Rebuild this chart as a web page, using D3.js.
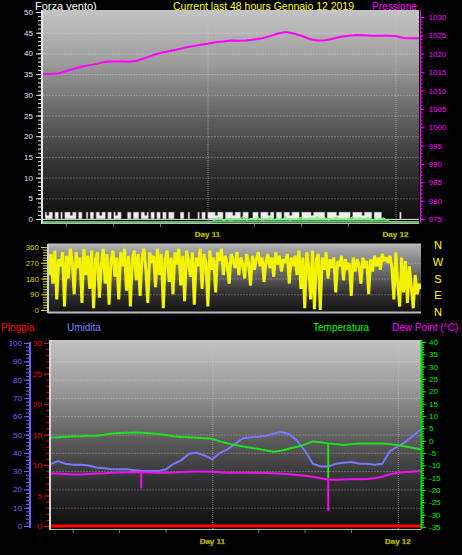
<!DOCTYPE html>
<html>
<head>
<meta charset="utf-8">
<script src="https://cdn.jsdelivr.net/npm/d3@7"></script>
<style>
  body { margin: 0; background: #000; }
  svg { display: block; }
  text { font-family: "Liberation Sans", Arial, sans-serif; }
</style>
</head>
<body>
<svg id="chart" width="462" height="555"></svg>
<script>
// ---- data ----
const startTime = new Date(2019, 0, 10, 3, 0);   // last 48 hours up to Jan 12
const endTime = new Date(2019, 0, 12, 3, 0);

const windTicks = [0, 5, 10, 15, 20, 25, 30, 35, 40, 45, 50];
const pressTicks = [975, 980, 985, 990, 995, 1000, 1005, 1010, 1015, 1020, 1025, 1030];
const dirTicks = [0, 90, 180, 270, 360];
const compass = ['N', 'E', 'S', 'W', 'N'];          // for 0, 90, 180, 270, 360
const humTicks = [0, 10, 20, 30, 40, 50, 60, 70, 80, 90, 100];
const rainTicks = [0, 5, 10, 15, 20, 25, 30];
const tempTicks = [-35, -30, -25, -20, -15, -10, -5, 0, 5, 10, 15, 20, 25, 30, 35, 40];

// hourly, 49 samples
const pressure = [1014.5, 1014.5, 1014.6, 1015.3, 1015.9, 1016.5, 1016.9, 1017.3, 1017.8, 1017.9,
  1017.9, 1017.8, 1018.1, 1018.8, 1019.6, 1020.2, 1020.7, 1021.1, 1021.6, 1022.0,
  1022.4, 1022.7, 1023.1, 1023.3, 1023.6, 1023.5, 1023.6, 1023.9, 1024.2, 1024.8,
  1025.5, 1025.9, 1025.5, 1024.9, 1024.0, 1023.6, 1023.7, 1024.1, 1024.6, 1024.9,
  1025.1, 1025.0, 1024.9, 1024.9, 1024.9, 1024.8, 1024.3, 1024.2, 1024.2];

const humidity = [33.5, 35.5, 34, 33.5, 33.5, 33, 32, 31.5, 31, 31,
  31, 30.5, 30, 30, 30, 31, 34, 36, 39.5, 40,
  38.5, 36.5, 40, 42, 45, 48, 48.5, 48.8, 49.5, 50.5,
  51.5, 50, 46.5, 41, 34, 32.5, 32.5, 34, 34.5, 35,
  34, 34, 33.5, 34, 41, 43.5, 46, 49.5, 53];

const temperature = [1.3, 1.4, 1.6, 1.7, 1.8, 2.0, 2.0, 2.4, 2.9, 3.1,
  3.2, 3.3, 3.2, 3.0, 2.7, 2.3, 1.8, 1.5, 1.4, 1.2,
  1.0, 0.8, -0.3, -1.1, -1.8, -2.4, -2.9, -3.4, -4.0, -4.5,
  -4.0, -3.2, -2.5, -1.5, -0.3, -0.6, -1.1, -1.4, -1.8, -1.4,
  -1.1, -1.1, -1.1, -1.1, -1.4, -1.8, -2.4, -3.0, -3.6];

const dewPoint = [-13.3, -13.3, -13.5, -13.7, -13.7, -13.5, -13.3, -13.2, -13.0, -12.9,
  -12.8, -12.7, -12.8, -12.9, -13.0, -13.0, -12.9, -12.7, -12.6, -12.5,
  -12.5, -12.6, -12.8, -13.0, -13.0, -13.0, -13.0, -13.1, -13.1, -13.2,
  -13.4, -13.6, -13.9, -14.2, -14.6, -15.2, -15.7, -15.8, -15.7, -15.6,
  -15.6, -15.5, -15.2, -14.6, -13.6, -13.0, -12.7, -12.5, -12.3];

const rain = [0, 0, 0, 0, 0, 0, 0, 0, 0, 0, 0, 0, 0, 0, 0, 0, 0, 0, 0, 0, 0, 0, 0, 0, 0,
  0, 0, 0, 0, 0, 0, 0, 0, 0, 0, 0, 0, 0, 0, 0, 0, 0, 0, 0, 0, 0, 0, 0, 0];

// single-sample drops
const tempSpikes = [{ hour: 36, from: -1.1, to: -15.2 }];
const dewSpikes = [{ hour: 11.8, from: -12.7, to: -19.3 }, { hour: 36, from: -15.7, to: -28.4 }];

// every 15 minutes, 193 samples
const windDir = [200, 320, 150, 340, 60, 290, 250, 330, 20, 310, 180, 350, 270, 90, 330, 240,
  300, 40, 350, 200, 310, 120, 340, 10, 290, 330, 70, 260, 350, 150, 320, 30,
  280, 340, 190, 300, 60, 330, 250, 350, 110, 310, 20, 290, 340, 170, 320, 80,
  300, 350, 230, 40, 330, 270, 310, 130, 350, 200, 320, 10, 290, 340, 160, 300,
  90, 330, 260, 350, 140, 310, 50, 340, 280, 190, 330, 30, 300, 250, 350, 120,
  320, 270, 20, 340, 230, 300, 100, 330, 280, 350, 200, 310, 260, 150, 320, 290,
  240, 330, 200, 300, 260, 180, 320, 270, 140, 310, 230, 290, 330, 250, 300, 160,
  280, 320, 240, 300, 190, 330, 260, 310, 220, 290, 270, 320, 150, 300, 250, 310,
  200, 340, 120, 300, 10, 330, 250, 60, 340, 5, 290, 320, 0, 300, 230, 330,
  180, 290, 240, 300, 100, 280, 250, 310, 170, 290, 230, 270, 80, 300, 220, 290,
  260, 150, 300, 240, 280, 90, 290, 220, 310, 250, 300, 230, 320, 280, 300, 270,
  310, 240, 60, 330, 150, 20, 300, 100, 280, 40, 250, 130, 10, 200, 90, 150, 120];

const gust = [0,
  1.7, 0.9, 1.7, 1.7, 0, 1.7, 1.7, 0, 1.7, 0, 1.7,
  1.7, 1.7, 0.9, 1.7, 1.7, 0, 1.7, 1.7, 0, 0,
  1.7, 0, 1.7, 1.7, 0, 1.7, 1.7, 0.9, 1.7, 1.7, 0,
  1.7, 1.7, 0, 1.7, 0.9, 1.7, 1.7, 0, 0, 0,
  1.7, 1.7, 0, 1.7, 1.7, 1.7, 0, 1.7, 1.7, 0.9, 1.7, 0, 1.7, 1.7, 0,
  1.7, 1.7, 0, 1.7, 1.7, 0, 1.7, 1.7, 1.7, 0, 0, 0,
  1.7, 1.7, 0, 0, 1.7, 0, 0, 0, 0,
  1.7, 0, 1.7, 1.7, 0, 1.7,
  1.7, 1.7, 1.7, 0.9, 1.7, 1.7, 1.7, 0, 1.7, 1.7, 1.7, 1.7, 0.9, 1.7, 1.7, 1.7, 0, 1.7, 1.7, 1.7,
  0, 0,
  1.7, 1.7, 1.7, 0, 1.7, 1.7, 1.7, 1.7, 0.9, 1.7, 1.7, 0, 1.7, 1.7, 1.7, 0,
  1.7, 1.7, 1.7, 0.9, 1.7, 1.7, 1.7, 1.7, 0, 1.7, 1.7, 1.7, 1.7, 1.7, 0.9, 1.7, 1.7, 1.7, 1.7, 1.7,
  1.7, 0, 1.7, 1.7, 1.7, 1.7, 1.7, 0.9, 1.7, 1.7, 1.7, 1.7, 1.7, 1.7, 0, 1.7, 1.7, 1.7, 1.7, 1.7,
  0.9, 1.7, 1.7, 1.7, 1.7, 0, 1.7, 1.7, 1.7, 1.7,
  0, 0, 0, 0, 0, 0, 0, 0, 0, 1.7, 0, 0, 0, 0, 0, 0, 0, 0, 0, 0];

// every 30 minutes, 97 samples
const avgWind = [0, 0, 0, 0, 0, 0, 0, 0, 0, 0, 0, 0, 0, 0, 0, 0, 0, 0, 0, 0, 0, 0,
  0, 0, 0, 0, 0, 0, 0, 0, 0, 0, 0, 0, 0, 0, 0, 0, 0, 0, 0, 0, 0, 0,
  0.6, 1.2, 0.3, 0.8, 0.2, 1.0, 0.5, 1.3, 0.4, 0.9, 0.7, 1.1, 0.3, 0.8, 1.2, 0.5,
  1.0, 0.6, 1.3, 0.4, 0.9, 0.7, 1.2, 0.5, 1.0, 0.8, 1.3, 0.6, 1.1, 0.4, 0.9, 1.2,
  0.7, 1.0, 0.5, 1.3, 0.8, 1.1, 0.6, 1.2, 0.4, 0.9, 0.7, 1.0, 0.3,
  0, 0, 0, 0, 0, 0, 0, 0];

// ---- helpers ----
const svg = d3.select('#chart');
const defs = svg.append('defs');
const at = (i, minutes) => d3.timeMinute.offset(startTime, i * minutes);
const days = d3.timeDay.range(startTime, endTime);
const sixHours = d3.timeHour.every(6).range(startTime, endTime).filter(d => d.getHours() !== 0);

function gradient(id, stops) {
  const g = defs.append('linearGradient').attr('id', id)
    .attr('x1', 0).attr('y1', 0).attr('x2', 0).attr('y2', 1);
  stops.forEach(s => g.append('stop').attr('offset', s[0]).attr('stop-color', s[1]));
}
gradient('bgMain', [[0, '#c4c4c4'], [0.25, '#9c9c9c'], [0.5, '#626262'], [0.75, '#303030'], [1, '#0c0c0c']]);
gradient('bgDir', [[0, '#b0b0b0'], [0.4, '#6a6a6a'], [0.7, '#333'], [1, '#141414']]);

function clip(id, x, y, w, h) {
  defs.append('clipPath').attr('id', id).append('rect')
    .attr('x', x).attr('y', y).attr('width', w).attr('height', h);
}

function styleAxis(g, color, size) {
  g.select('.domain').remove();
  g.selectAll('.tick line').attr('stroke', color);
  g.selectAll('.tick text').attr('fill', color).style('font-size', size + 'px')
    .style('font-family', '"Liberation Sans", Arial, sans-serif');
  return g;
}

function yAxis(gen, pos, scale, ticks, minor, len, pad, color) {
  const major = svg.append('g').attr('transform', `translate(${pos},0)`)
    .call(gen(scale).tickValues(ticks).tickSize(len).tickPadding(pad).tickFormat(d => String(d)));
  styleAxis(major, color, 8);
  const small = svg.append('g').attr('transform', `translate(${pos},0)`)
    .call(gen(scale).tickValues(minor).tickSize(len - 2).tickFormat(''));
  styleAxis(small, color, 8);
}

function minorRange(ticks, step) {
  const out = [];
  for (let v = ticks[0]; v <= ticks[ticks.length - 1] + 1e-9; v += step) out.push(+v.toFixed(3));
  return out;
}

function dayLabels(x, y) {
  svg.append('g').selectAll('text').data(days).join('text')
    .attr('x', d => x(d)).attr('y', y)
    .attr('text-anchor', 'middle')
    .attr('fill', '#f0f000').attr('stroke', '#6a6a00').attr('stroke-width', 0.3)
    .style('font-size', '8px').style('font-weight', 'bold')
    .text(d => 'Day ' + d.getDate());
}

// ---- titles ----
svg.append('text').attr('x', 35).attr('y', 10).attr('fill', '#fff').style('font-size', '11px').text('Forza vento)');
svg.append('text').attr('x', 173).attr('y', 10).attr('fill', '#ffff00').style('font-size', '11px')
  .attr('textLength', 181).attr('lengthAdjust', 'spacingAndGlyphs')
  .text('Current last 48 hours Gennaio 12 2019');
svg.append('text').attr('x', 372).attr('y', 10).attr('fill', '#ff00ff').style('font-size', '11px')
  .attr('textLength', 45).attr('lengthAdjust', 'spacingAndGlyphs').text('Pressione');

// ================= panel 1: wind speed + pressure =================
const x1 = d3.scaleTime().domain([startTime, endTime]).range([43, 419]);
const yWind = d3.scaleLinear().domain([0, 50]).range([219, 12]);
const yPress = d3.scaleLinear().domain([975, 1030]).range([219, 17]);

svg.append('rect').attr('x', 43).attr('y', 10).attr('width', 376).attr('height', 213).attr('fill', 'url(#bgMain)');
clip('clip1', 43, 10, 376, 213);
const p1 = svg.append('g').attr('clip-path', 'url(#clip1)');

p1.append('g').selectAll('line').data(windTicks.slice(1, -1)).join('line')
  .attr('x1', 43).attr('x2', 419).attr('y1', d => yWind(d) + 0.5).attr('y2', d => yWind(d) + 0.5)
  .attr('stroke', 'rgba(255,255,255,0.28)').attr('stroke-dasharray', '2,1');
p1.append('g').selectAll('line').data(days).join('line')
  .attr('x1', d => x1(d) + 0.5).attr('x2', d => x1(d) + 0.5).attr('y1', 10).attr('y2', 223)
  .attr('stroke', 'rgba(200,200,200,0.6)').attr('stroke-dasharray', '1,1');

p1.append('path').datum(gust)
  .attr('d', d3.area().x((d, i) => x1(at(i, 15))).y0(yWind(0)).y1(d => yWind(d)).curve(d3.curveStepAfter))
  .attr('fill', '#eeeeee').attr('stroke', '#444').attr('stroke-width', 0.6);
p1.append('line').attr('x1', 43).attr('x2', 419).attr('y1', yWind(0) + 0.5).attr('y2', yWind(0) + 0.5)
  .attr('stroke', '#cfcfcf');

p1.append('path').datum(avgWind)
  .attr('d', d3.area().x((d, i) => x1(at(i, 30))).y0(222).y1(d => yWind(d) + 3))
  .attr('fill', 'rgba(120,255,120,0.55)').attr('stroke', '#7cff7c').attr('stroke-width', 1);

p1.append('path').datum(pressure)
  .attr('d', d3.line().x((d, i) => x1(at(i, 60))).y(d => yPress(d)))
  .attr('fill', 'none').attr('stroke', '#ff00ff').attr('stroke-width', 2);

svg.append('line').attr('x1', 42).attr('x2', 42).attr('y1', 10).attr('y2', 224).attr('stroke', '#e6e6e6').attr('stroke-width', 2);
svg.append('line').attr('x1', 42).attr('x2', 419).attr('y1', 223.5).attr('y2', 223.5).attr('stroke', '#b8b8b8');
svg.append('line').attr('x1', 420.5).attr('x2', 420.5).attr('y1', 10).attr('y2', 223).attr('stroke', '#ff00ff');

yAxis(d3.axisLeft, 41, yWind, windTicks, minorRange(windTicks, 1), 5, 3, '#e2e2f2');
yAxis(d3.axisRight, 420.5, yPress, pressTicks, minorRange(pressTicks, 1), 4, 4, '#ff00ff');

svg.append('g').selectAll('line').data(sixHours).join('line')
  .attr('x1', d => x1(d)).attr('x2', d => x1(d)).attr('y1', 224).attr('y2', 227).attr('stroke', '#777');
dayLabels(x1, 237);

// ================= panel 2: wind direction =================
const x2 = d3.scaleTime().domain([startTime, endTime]).range([49, 421]);
const yDir = d3.scaleLinear().domain([0, 360]).range([310, 247]);

svg.append('rect').attr('x', 48).attr('y', 245).attr('width', 373).attr('height', 67).attr('fill', 'url(#bgDir)');
clip('clip2', 48, 245, 373, 67);
const p2 = svg.append('g').attr('clip-path', 'url(#clip2)');
p2.append('g').selectAll('line').data(dirTicks.slice(1, -1)).join('line')
  .attr('x1', 48).attr('x2', 421).attr('y1', d => yDir(d) + 0.5).attr('y2', d => yDir(d) + 0.5)
  .attr('stroke', 'rgba(255,255,255,0.25)').attr('stroke-dasharray', '2,1');
p2.append('path').datum(windDir)
  .attr('d', d3.line().x((d, i) => x2(at(i, 15))).y(d => yDir(d)))
  .attr('fill', 'none').attr('stroke', '#f4f400').attr('stroke-width', 3).attr('stroke-linejoin', 'bevel');

svg.append('line').attr('x1', 48).attr('x2', 421).attr('y1', 244.5).attr('y2', 244.5).attr('stroke', '#bdbdbd').attr('stroke-width', 2);
svg.append('line').attr('x1', 48).attr('x2', 421).attr('y1', 312.5).attr('y2', 312.5).attr('stroke', '#bdbdbd').attr('stroke-width', 2);
svg.append('line').attr('x1', 48).attr('x2', 48).attr('y1', 244).attr('y2', 313).attr('stroke', '#d0d0d0').attr('stroke-width', 2);

yAxis(d3.axisLeft, 47, yDir, dirTicks, minorRange(dirTicks, 15), 6, 2, '#d4d400');

svg.append('g').selectAll('text').data(dirTicks).join('text')
  .attr('x', 438).attr('y', d => yDir(d) + 4 - (d - 180) / 90)
  .attr('text-anchor', 'middle').attr('fill', '#ffff00').style('font-size', '11px')
  .text((d, i) => compass[i]);

// ================= panel 3: rain, humidity, temperature, dew point =================
const x3 = d3.scaleTime().domain([startTime, endTime]).range([50, 421]);
const yHum = d3.scaleLinear().domain([0, 100]).range([526, 343]);
const yRain = d3.scaleLinear().domain([0, 30]).range([526, 343]);
const yTemp = d3.scaleLinear().domain([-35, 40]).range([527, 342]);

const legend = [
  { label: 'Pioggia', x: 1, color: '#ff0000' },
  { label: 'Umidita', x: 67, color: '#8080ff' },
  { label: 'Temperatura', x: 313, color: '#00ff00' },
  { label: 'Dew Point (°C)', x: 392, color: '#ff00ff' }
];
svg.append('g').selectAll('text').data(legend).join('text')
  .attr('x', d => d.x).attr('y', 331).attr('fill', d => d.color).style('font-size', '10px')
  .text(d => d.label);

svg.append('rect').attr('x', 50).attr('y', 340).attr('width', 371).attr('height', 189).attr('fill', 'url(#bgMain)');
clip('clip3', 50, 340, 371, 189);
const p3 = svg.append('g').attr('clip-path', 'url(#clip3)');

p3.append('g').selectAll('line').data(humTicks.slice(1, -1)).join('line')
  .attr('x1', 50).attr('x2', 421).attr('y1', d => yHum(d) + 0.5).attr('y2', d => yHum(d) + 0.5)
  .attr('stroke', 'rgba(255,255,255,0.25)').attr('stroke-dasharray', '2,1');
p3.append('g').selectAll('line').data(days).join('line')
  .attr('x1', d => x3(d) + 0.5).attr('x2', d => x3(d) + 0.5).attr('y1', 340).attr('y2', 529)
  .attr('stroke', 'rgba(200,200,200,0.6)').attr('stroke-dasharray', '1,1');

const hourLine = (scale) => d3.line().x((d, i) => x3(at(i, 60))).y(d => scale(d));

p3.append('path').datum(rain).attr('d', hourLine(yRain))
  .attr('fill', 'none').attr('stroke', '#ff0000').attr('stroke-width', 3);
p3.append('path').datum(humidity).attr('d', hourLine(yHum))
  .attr('fill', 'none').attr('stroke', '#7878ff').attr('stroke-width', 2);
p3.append('path').datum(dewPoint).attr('d', hourLine(yTemp))
  .attr('fill', 'none').attr('stroke', '#f010f0').attr('stroke-width', 2);
p3.append('g').selectAll('line').data(dewSpikes).join('line')
  .attr('x1', d => x3(at(d.hour, 60))).attr('x2', d => x3(at(d.hour, 60)))
  .attr('y1', d => yTemp(d.from)).attr('y2', d => yTemp(d.to))
  .attr('stroke', '#f010f0').attr('stroke-width', 2);
p3.append('path').datum(temperature).attr('d', hourLine(yTemp))
  .attr('fill', 'none').attr('stroke', '#22e022').attr('stroke-width', 2);
p3.append('g').selectAll('line').data(tempSpikes).join('line')
  .attr('x1', d => x3(at(d.hour, 60))).attr('x2', d => x3(at(d.hour, 60)))
  .attr('y1', d => yTemp(d.from)).attr('y2', d => yTemp(d.to))
  .attr('stroke', '#22e022').attr('stroke-width', 2);

svg.append('line').attr('x1', 50).attr('x2', 50).attr('y1', 340).attr('y2', 530).attr('stroke', '#d8d8d8').attr('stroke-width', 2);
svg.append('line').attr('x1', 50).attr('x2', 421).attr('y1', 529.5).attr('y2', 529.5).attr('stroke', '#b8b8b8');
svg.append('line').attr('x1', 30).attr('x2', 30).attr('y1', 342).attr('y2', 528).attr('stroke', '#6464ff').attr('stroke-width', 2);
svg.append('line').attr('x1', 421.5).attr('x2', 421.5).attr('y1', 340).attr('y2', 529).attr('stroke', '#00e000').attr('stroke-width', 2);

yAxis(d3.axisLeft, 29, yHum, humTicks, minorRange(humTicks, 2), 5, 2, '#6a6aff');
yAxis(d3.axisLeft, 49, yRain, rainTicks, minorRange(rainTicks, 1), 5, 2, '#ee0000');
yAxis(d3.axisRight, 422, yTemp, tempTicks, minorRange(tempTicks, 1), 4, 3, '#00ee00');

svg.append('g').selectAll('line').data(sixHours).join('line')
  .attr('x1', d => x3(d)).attr('x2', d => x3(d)).attr('y1', 530).attr('y2', 533).attr('stroke', '#777');
dayLabels(x3, 544);
</script>
</body>
</html>
